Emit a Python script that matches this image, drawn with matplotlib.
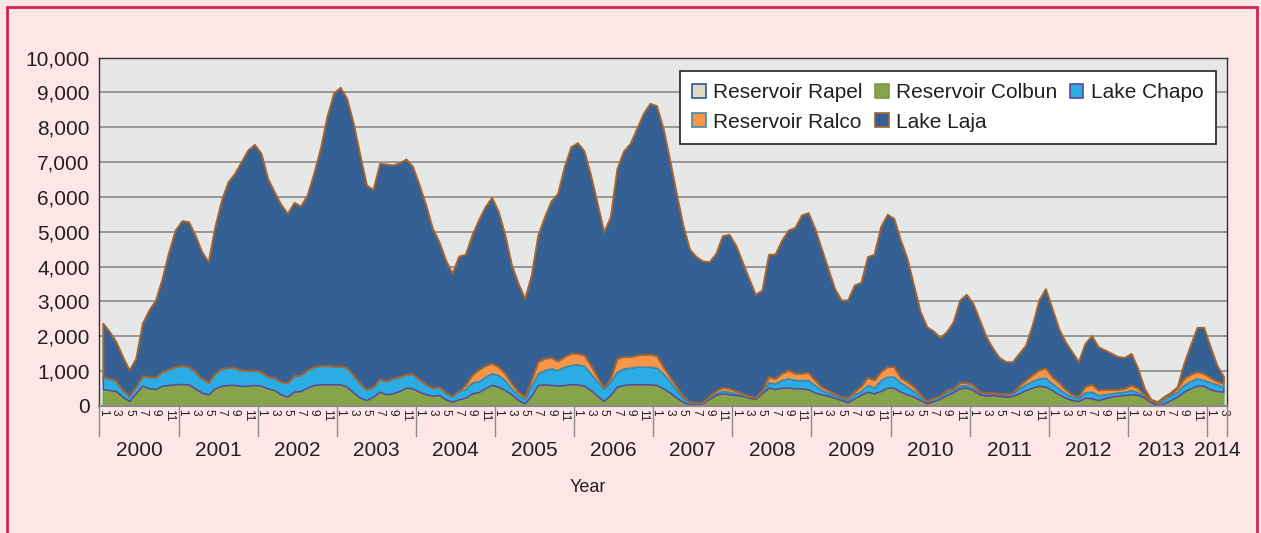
import numpy as np
import matplotlib.pyplot as plt
from matplotlib.patches import Rectangle, Patch
from matplotlib.transforms import blended_transform_factory

plt.rcParams['font.family'] = ['Liberation Sans', 'DejaVu Sans']

# monthly values, Jan 2000 .. Mar 2014
years = [str(y) for y in range(2000, 2015)]

rapel = [20] * 171  # too thin to see at this scale

colbun_top = [
    488, 459, 430, 268, 143, 363, 583, 507, 488, 583, 603, 622,
    631, 622, 507, 383, 335, 507, 583, 603, 603, 574, 583, 603,
    583, 507, 459, 335, 268, 411, 430, 526, 603, 622, 622, 622,
    622, 555, 392, 239, 172, 268, 411, 335, 363, 430, 526, 507,
    411, 335, 297, 316, 191, 124, 191, 239, 363, 400, 507, 603,
    555, 459, 335, 172, 77, 297, 603, 622, 603, 583, 603, 622,
    622, 583, 459, 297, 143, 316, 555, 603, 622, 622, 622, 622,
    603, 507, 390, 239, 124, 48, 48, 77, 201, 316, 363, 335,
    316, 287, 239, 201, 363, 526, 488, 526, 526, 507, 507, 478,
    392, 335, 297, 239, 172, 105, 220, 325, 411, 363, 430, 526,
    526, 411, 335, 268, 172, 77, 143, 201, 316, 392, 507, 526,
    459, 335, 297, 316, 287, 268, 287, 363, 459, 526, 583, 555,
    459, 335, 239, 172, 143, 239, 220, 172, 220, 268, 297, 316,
    335, 316, 239, 105, 29, 77, 172, 268, 411, 507, 583, 583,
    478, 430, 411]

chapo_top = [
    842, 794, 717, 459, 287, 555, 870, 842, 823, 985, 1062, 1129,
    1157, 1129, 985, 794, 679, 937, 1081, 1100, 1100, 1033, 1014, 1033,
    985, 842, 813, 698, 665, 870, 890, 1033, 1129, 1157, 1157, 1148,
    1148, 1100, 890, 650, 478, 555, 775, 717, 794, 842, 918, 918,
    765, 622, 526, 555, 383, 287, 440, 488, 679, 708, 842, 937,
    890, 746, 507, 316, 201, 583, 937, 1033, 1081, 1033, 1129, 1176,
    1196, 1157, 937, 698, 507, 698, 985, 1081, 1100, 1129, 1129, 1129,
    1100, 937, 708, 459, 239, 105, 77, 96, 239, 363, 440, 411,
    363, 316, 268, 220, 411, 679, 650, 746, 794, 746, 746, 746,
    603, 459, 383, 316, 239, 172, 335, 435, 603, 526, 746, 842,
    842, 679, 555, 430, 268, 124, 220, 268, 411, 459, 583, 603,
    526, 392, 363, 363, 335, 335, 363, 507, 622, 717, 794, 813,
    650, 507, 363, 268, 220, 392, 411, 316, 335, 363, 392, 411,
    459, 392, 297, 143, 77, 201, 316, 411, 603, 717, 794, 746,
    679, 622, 555]

ralco_top = [
    0, 0, 0, 0, 0, 0, 0, 0, 0, 0, 0, 0,
    0, 0, 0, 0, 0, 0, 0, 0, 0, 0, 0, 0,
    0, 0, 0, 0, 0, 0, 0, 0, 0, 0, 0, 0,
    0, 0, 0, 0, 0, 0, 0, 0, 0, 0, 0, 0,
    0, 0, 0, 0, 0, 0, 0, 603, 890, 1047, 1157, 1224,
    1129, 937, 650, 411, 268, 746, 1272, 1368, 1396, 1291, 1416, 1511,
    1511, 1463, 1176, 842, 526, 794, 1368, 1416, 1416, 1463, 1483, 1483,
    1444, 1129, 842, 555, 297, 124, 96, 105, 297, 440, 536, 507,
    430, 363, 297, 239, 459, 842, 794, 937, 1033, 937, 937, 966,
    746, 555, 459, 363, 268, 239, 411, 570, 823, 746, 985, 1129,
    1129, 813, 698, 555, 335, 143, 239, 297, 459, 507, 670, 679,
    603, 411, 383, 383, 354, 354, 383, 583, 746, 890, 1033, 1090,
    842, 679, 478, 335, 268, 555, 622, 459, 478, 478, 478, 507,
    603, 507, 335, 163, 105, 268, 363, 507, 794, 909, 985, 937,
    813, 717, 650]

total = [
    2372, 2133, 1846, 1416, 1033, 1368, 2372, 2755, 3042, 3663, 4428, 5050,
    5318, 5289, 4907, 4428, 4142, 5146, 5911, 6437, 6676, 7011, 7346, 7508,
    7250, 6533, 6150, 5787, 5528, 5844, 5739, 6055, 6676, 7393, 8302, 8972,
    9144, 8828, 8111, 7202, 6341, 6217, 6963, 6944, 6915, 6982, 7087, 6868,
    6341, 5767, 5098, 4715, 4189, 3807, 4304, 4352, 4907, 5340, 5720, 5988,
    5576, 4907, 4046, 3520, 3089, 3759, 4907, 5433, 5882, 6102, 6868, 7441,
    7556, 7317, 6628, 5815, 5002, 5433, 6820, 7317, 7537, 7967, 8398, 8685,
    8618, 7967, 7058, 6100, 5193, 4505, 4285, 4161, 4142, 4381, 4888, 4926,
    4620, 4142, 3663, 3204, 3329, 4352, 4362, 4764, 5050, 5127, 5481, 5548,
    5098, 4524, 3950, 3377, 3042, 3042, 3472, 3548, 4285, 4352, 5146, 5500,
    5385, 4764, 4238, 3472, 2707, 2276, 2152, 1970, 2133, 2420, 3042, 3204,
    2946, 2468, 1989, 1655, 1387, 1272, 1272, 1511, 1750, 2324, 3042, 3367,
    2802, 2228, 1846, 1559, 1272, 1798, 2018, 1702, 1607, 1511, 1416, 1396,
    1511, 1081, 507, 191, 124, 268, 392, 555, 1224, 1750, 2257, 2257,
    1702, 1176, 850]

names = ['Reservoir Rapel', 'Reservoir Colbun', 'Lake Chapo', 'Reservoir Ralco', 'Lake Laja']
fills = ['#DDDAC6', '#88A44A', '#2BADE3', '#F7964A', '#356093']
edges = ['#2A5A95', '#7E9B45', '#5E4697', '#3E8CA5', '#A9642C']

# levels -> thickness of each layer
rapel = np.array(rapel, float)
colbun = np.clip(np.array(colbun_top) - rapel, 0, None)
chapo = np.clip(np.array(chapo_top) - np.array(colbun_top), 0, None)
ralco_lvl = np.maximum(np.array(ralco_top), np.array(chapo_top))
ralco = ralco_lvl - np.array(chapo_top)
laja = np.clip(np.array(total) - ralco_lvl, 0, None)

n = len(total)
x = np.arange(n)

fig = plt.figure(figsize=(12.61, 5.33), dpi=100, facecolor='#FDE7E6')
ax = fig.add_axes([0.0789, 0.2383, 0.8939, 0.6538])
ax.set_facecolor('#E6E7E7')

polys = ax.stackplot(x, rapel, colbun, chapo, ralco, laja, colors=fills)
for p, ec, lw in zip(polys, edges, [1.0, 1.0, 1.1, 1.1, 1.4]):
    p.set_edgecolor(ec)
    p.set_linewidth(lw)

ax.set_xlim(-0.5, n - 0.5)
ax.set_ylim(0, 10000)
ax.set_yticks(range(0, 10001, 1000))
ax.set_yticklabels(['{:,}'.format(v) for v in range(0, 10001, 1000)])
ax.yaxis.grid(True, color='#8A8A8A', lw=1.2)
ax.set_axisbelow(True)
ax.tick_params(axis='y', length=0, pad=7, labelsize=15, labelcolor='#231F20')

# month labels 1,3,5,...
mpos = [i for i in range(n) if i % 12 % 2 == 0]
mlab = [str(i % 12 + 1) for i in mpos]
ax.set_xticks(mpos)
ax.set_xticklabels(mlab, rotation=-90, fontsize=8.5, color='#231F20')
ax.tick_params(axis='x', length=0, pad=2)

for s in ['top', 'left', 'right']:
    ax.spines[s].set_color('#333333')
    ax.spines[s].set_linewidth(1.0)
ax.spines['bottom'].set_color('#8A8A8A')
ax.spines['bottom'].set_linewidth(1.5)

# year separators and labels
tr = blended_transform_factory(ax.transData, ax.transAxes)
bounds = list(range(0, n, 12)) + [n]
for b in bounds:
    ax.plot([b - 0.5, b - 0.5], [0, -0.086], transform=tr, color='#8A8A8A',
            lw=1.0, clip_on=False)
for k, yr in enumerate(years):
    a = bounds[k]
    e = bounds[k + 1]
    cx = (a + e - 1) / 2
    if yr == '2013':
        cx -= 0.9
    ax.text(cx, -0.129, yr, transform=tr, ha='center', va='center',
            fontsize=15, color='#231F20')

fig.text(588 / 1261, 1 - 487 / 533, 'Year', ha='center', va='center',
         fontsize=13, color='#231F20')

# legend in two rows: Rapel Colbun Chapo / Ralco Laja
handles = [Patch(facecolor=f, edgecolor=e, lw=1.2) for f, e in zip(fills, edges)]
order = [0, 3, 1, 4, 2]
leg = ax.legend([handles[i] for i in order], [names[i] for i in order],
                ncol=3, loc='upper right', bbox_to_anchor=(0.9902, 0.962),
                borderaxespad=0, fontsize=15, frameon=True, fancybox=False,
                handlelength=0.65, handleheight=0.65, handletextpad=0.35,
                columnspacing=0.6, labelspacing=0.5, borderpad=0.6)
leg.get_frame().set_edgecolor('#231F20')
leg.get_frame().set_linewidth(1.2)
leg.get_frame().set_alpha(1)
for t in leg.get_texts():
    t.set_color('#231F20')

fig.patches.append(Rectangle((7 / 1261, -0.1), 1250 / 1261, 1 - 7 / 533 + 0.1,
                             transform=fig.transFigure, fill=False,
                             edgecolor='#D3234F', lw=2))

fig.savefig('out.png', dpi=100, facecolor=fig.get_facecolor())
